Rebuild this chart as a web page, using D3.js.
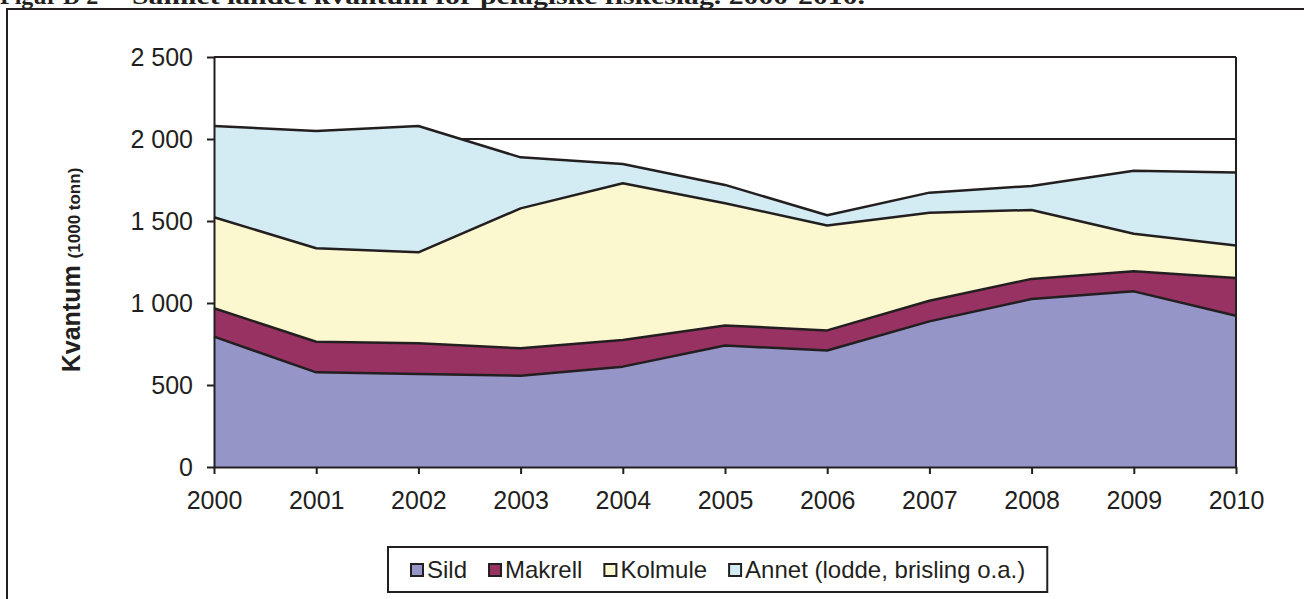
<!DOCTYPE html>
<html>
<head>
<meta charset="utf-8">
<script src="https://cdn.jsdelivr.net/npm/d3@7"></script>
<style>
  body { margin: 0; background: #fff; }
  svg { display: block; }
</style>
</head>
<body>
<div id="chart"></div>
<script>
// data (1000 tonn)
var years = [2000, 2001, 2002, 2003, 2004, 2005, 2006, 2007, 2008, 2009, 2010];
var sild = [795, 577, 567, 557, 612, 741, 710, 888, 1024, 1071, 922];
var makrell = [173, 187, 187, 167, 162, 122, 123, 126, 123, 123, 231];
var kolmule = [555, 570, 555, 853, 956, 745, 640, 537, 420, 228, 198];
var annet = [556, 715, 770, 311, 118, 112, 62, 122, 147, 384, 445];
var seriesNames = ["Sild", "Makrell", "Kolmule", "Annet (lodde, brisling o.a.)"];
var yTicks = [0, 500, 1000, 1500, 2000, 2500];

var colors = ["#9595c8", "#983262", "#fbf8cf", "#d3ecf3"];
var ink = "#231f20";

// svg size and plot margins
var svgWidth = 1304;
var svgHeight = 599;
var margin = { top: 57, right: 68, bottom: 132, left: 214 };
var width = svgWidth - margin.left - margin.right;
var height = svgHeight - margin.top - margin.bottom;

var svg = d3.select("#chart")
    .append("svg")
    .attr("width", svgWidth)
    .attr("height", svgHeight);

// title, mostly cut off at the top edge
svg.append("text")
    .attr("x", 0)
    .attr("y", 4)
    .style("font-family", "'Liberation Serif', serif")
    .style("font-weight", "bold")
    .style("font-size", "24px")
    .style("fill", ink)
    .text("Figur D 2");
svg.append("text")
    .attr("x", 132)
    .attr("y", 4)
    .attr("textLength", 733)
    .attr("lengthAdjust", "spacingAndGlyphs")
    .style("font-family", "'Liberation Serif', serif")
    .style("font-weight", "bold")
    .style("font-size", "24px")
    .style("fill", ink)
    .text("Samlet landet kvantum for pelagiske fiskeslag. 2000-2010.");

// outer chart frame
svg.append("rect")
    .attr("x", 7)
    .attr("y", 9)
    .attr("width", 1400)
    .attr("height", 700)
    .attr("fill", "none")
    .attr("stroke", ink)
    .attr("stroke-width", 2);

var chart = svg.append("g")
    .attr("transform", `translate(${margin.left}, ${margin.top})`);

var xscale = d3.scaleLinear()
    .domain([2000, 2010])
    .range([0, width]);

var yscale = d3.scaleLinear()
    .domain([0, 2500])
    .range([height, 0]);

// stacked table
var table = years.map(function (y, i) {
    return { year: y, s0: sild[i], s1: makrell[i], s2: kolmule[i], s3: annet[i] };
});
var stack = d3.stack().keys(["s0", "s1", "s2", "s3"]);
var layers = stack(table);

// gridlines behind areas
chart.selectAll(".grid")
    .data(yTicks.slice(1))
    .enter()
    .append("line")
    .attr("x1", 0)
    .attr("x2", width)
    .attr("y1", d => yscale(d))
    .attr("y2", d => yscale(d))
    .attr("stroke", ink)
    .attr("stroke-width", 2);

var area = d3.area()
    .x(d => xscale(d.data.year))
    .y0(d => yscale(d[0]))
    .y1(d => yscale(d[1]));

var topLine = d3.line()
    .x(d => xscale(d.data.year))
    .y(d => yscale(d[1]));

chart.selectAll(".layer")
    .data(layers)
    .enter()
    .append("path")
    .attr("d", area)
    .attr("fill", (d, i) => colors[i]);

chart.selectAll(".edge")
    .data(layers)
    .enter()
    .append("path")
    .attr("d", topLine)
    .attr("fill", "none")
    .attr("stroke", ink)
    .attr("stroke-width", 2.5)
    .attr("stroke-linejoin", "round");

// right border of plot area
chart.append("line")
    .attr("x1", width).attr("x2", width)
    .attr("y1", 0).attr("y2", height)
    .attr("stroke", ink)
    .attr("stroke-width", 2);

// axes
var fmt = d3.format(",");
var leftAxis = d3.axisLeft(yscale)
    .tickValues(yTicks)
    .tickSize(7)
    .tickSizeOuter(0)
    .tickPadding(14)
    .tickFormat(d => fmt(d).replace(",", " "));

var bottomAxis = d3.axisBottom(xscale)
    .tickValues(years)
    .tickSize(7)
    .tickSizeOuter(0)
    .tickFormat(d3.format("d"));

var gy = chart.append("g").call(leftAxis);
var gx = chart.append("g")
    .attr("transform", `translate(0, ${height})`)
    .call(bottomAxis);

[gx, gy].forEach(function (g) {
    g.selectAll("path, line").attr("stroke", ink).attr("stroke-width", 2);
    g.selectAll("text")
        .style("font-family", "'Liberation Sans', Arial, sans-serif")
        .style("font-size", "25px")
        .style("fill", ink);
});
gy.selectAll("text").attr("dy", "0.35em");
gx.selectAll("text").attr("y", 42).attr("dy", 0);

// y axis title
var ylabel = svg.append("text")
    .attr("transform", "translate(80, 270) rotate(-90)")
    .style("text-anchor", "middle")
    .style("font-family", "'Liberation Sans', Arial, sans-serif")
    .style("font-weight", "bold")
    .style("fill", ink);
ylabel.append("tspan").style("font-size", "25px").text("Kvantum ");
ylabel.append("tspan").style("font-size", "17px").text("(1000 tonn)");

// legend
var legend = svg.append("g");
var legendBox = legend.append("rect")
    .attr("y", 547)
    .attr("height", 45)
    .attr("fill", "#fff")
    .attr("stroke", ink)
    .attr("stroke-width", 2);

var lx = 411;
seriesNames.forEach(function (name, i) {
    legend.append("rect")
        .attr("x", lx)
        .attr("y", 564)
        .attr("width", 12)
        .attr("height", 12)
        .attr("fill", colors[i])
        .attr("stroke", ink)
        .attr("stroke-width", 2);
    var t = legend.append("text")
        .attr("x", lx + 16)
        .attr("y", 578)
        .style("font-family", "'Liberation Sans', Arial, sans-serif")
        .style("font-size", "24px")
        .style("fill", ink)
        .text(name);
    lx = lx + 16 + t.node().getComputedTextLength() + 22;
});
legendBox.attr("x", 388).attr("width", lx - 388);
</script>
</body>
</html>
